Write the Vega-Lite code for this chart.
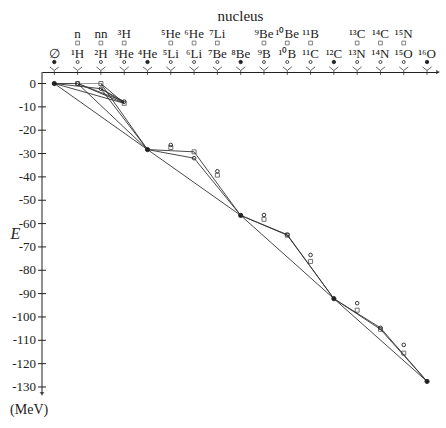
{
  "$schema": "https://vega.github.io/schema/vega-lite/v6.json",
  "width": 396,
  "height": 322,
  "autosize": {"type": "none"},
  "padding": {"left": 42, "top": 72, "right": 8, "bottom": 34},
  "config": {"view": {"stroke": null}, "font": "Liberation Serif"},
  "title": {"text": "(MeV)", "orient": "bottom", "anchor": "start", "frame": "bounds", "font": "Liberation Serif", "fontSize": 14, "fontWeight": "normal", "color": "#222", "offset": 7, "baseline": "top"},
  "datasets": {
    "nuclei": [
      {"A": 0, "E": 0, "kind": "even", "name": "∅"},
      {"A": 1, "E": 0, "kind": "odd", "name": "¹H"},
      {"A": 1, "E": 0, "kind": "other", "name": "n"},
      {"A": 2, "E": -2.22, "kind": "odd", "name": "²H"},
      {"A": 2, "E": 0, "kind": "other", "name": "nn"},
      {"A": 3, "E": -7.72, "kind": "odd", "name": "³He"},
      {"A": 3, "E": -8.48, "kind": "other", "name": "³H"},
      {"A": 4, "E": -28.3, "kind": "even", "name": "⁴He"},
      {"A": 5, "E": -26.33, "kind": "odd", "name": "⁵Li"},
      {"A": 5, "E": -27.41, "kind": "other", "name": "⁵He"},
      {"A": 6, "E": -31.99, "kind": "odd", "name": "⁶Li"},
      {"A": 6, "E": -29.27, "kind": "other", "name": "⁶He"},
      {"A": 7, "E": -37.6, "kind": "odd", "name": "⁷Be"},
      {"A": 7, "E": -39.24, "kind": "other", "name": "⁷Li"},
      {"A": 8, "E": -56.5, "kind": "even", "name": "⁸Be"},
      {"A": 9, "E": -56.31, "kind": "odd", "name": "⁹B"},
      {"A": 9, "E": -58.17, "kind": "other", "name": "⁹Be"},
      {"A": 10, "E": -64.75, "kind": "odd", "name": "¹⁰B"},
      {"A": 10, "E": -64.98, "kind": "other", "name": "¹⁰Be"},
      {"A": 11, "E": -73.44, "kind": "odd", "name": "¹¹C"},
      {"A": 11, "E": -76.2, "kind": "other", "name": "¹¹B"},
      {"A": 12, "E": -92.16, "kind": "even", "name": "¹²C"},
      {"A": 13, "E": -94.1, "kind": "odd", "name": "¹³N"},
      {"A": 13, "E": -97.1, "kind": "other", "name": "¹³C"},
      {"A": 14, "E": -104.66, "kind": "odd", "name": "¹⁴N"},
      {"A": 14, "E": -105.28, "kind": "other", "name": "¹⁴C"},
      {"A": 15, "E": -111.96, "kind": "odd", "name": "¹⁵O"},
      {"A": 15, "E": -115.49, "kind": "other", "name": "¹⁵N"},
      {"A": 16, "E": -127.62, "kind": "even", "name": "¹⁶O"}
    ],
    "paths": [
      {"p": "a", "A": 0, "E": 0}, {"p": "a", "A": 1, "E": 0},
      {"p": "b", "A": 0, "E": 0}, {"p": "b", "A": 2, "E": -2.22}, {"p": "b", "A": 3, "E": -7.72},
      {"p": "c", "A": 0, "E": 0}, {"p": "c", "A": 3, "E": -8.48},
      {"p": "d", "A": 1, "E": 0}, {"p": "d", "A": 3, "E": -7.72},
      {"p": "e", "A": 1, "E": 0}, {"p": "e", "A": 3, "E": -8.48},
      {"p": "f", "A": 2, "E": 0}, {"p": "f", "A": 3, "E": -8.48},
      {"p": "g", "A": 2, "E": -2.22}, {"p": "g", "A": 3, "E": -8.48},
      {"p": "h", "A": 0, "E": 0}, {"p": "h", "A": 4, "E": -28.3},
      {"p": "i", "A": 1, "E": 0}, {"p": "i", "A": 4, "E": -28.3},
      {"p": "j", "A": 2, "E": 0}, {"p": "j", "A": 4, "E": -28.3},
      {"p": "k", "A": 2, "E": -2.22}, {"p": "k", "A": 4, "E": -28.3},
      {"p": "l", "A": 4, "E": -28.3}, {"p": "l", "A": 6, "E": -29.27}, {"p": "l", "A": 8, "E": -56.5},
      {"p": "m", "A": 4, "E": -28.3}, {"p": "m", "A": 6, "E": -31.99}, {"p": "m", "A": 8, "E": -56.5},
      {"p": "n", "A": 4, "E": -28.3}, {"p": "n", "A": 8, "E": -56.5},
      {"p": "o", "A": 8, "E": -56.5}, {"p": "o", "A": 10, "E": -64.75}, {"p": "o", "A": 12, "E": -92.16},
      {"p": "q", "A": 8, "E": -56.5}, {"p": "q", "A": 10, "E": -64.98}, {"p": "q", "A": 12, "E": -92.16},
      {"p": "r", "A": 8, "E": -56.5}, {"p": "r", "A": 12, "E": -92.16},
      {"p": "s", "A": 12, "E": -92.16}, {"p": "s", "A": 14, "E": -104.66}, {"p": "s", "A": 16, "E": -127.62},
      {"p": "t", "A": 12, "E": -92.16}, {"p": "t", "A": 14, "E": -105.28}, {"p": "t", "A": 16, "E": -127.62},
      {"p": "u", "A": 12, "E": -92.16}, {"p": "u", "A": 16, "E": -127.62}
    ],
    "grey": [
      {"A": 1, "E": 0}, {"A": 2, "E": 0}
    ],
    "yticks": [
      {"E": 0, "label": "0"}, {"E": -10, "label": "-10"}, {"E": -20, "label": "-20"}, {"E": -30, "label": "-30"},
      {"E": -40, "label": "-40"}, {"E": -50, "label": "-50"}, {"E": -60, "label": "-60"}, {"E": -70, "label": "-70"},
      {"E": -80, "label": "-80"}, {"E": -90, "label": "-90"}, {"E": -100, "label": "-100"}, {"E": -110, "label": "-110"},
      {"E": -120, "label": "-120"}, {"E": -130, "label": "-130"}
    ]
  },
  "layer": [
    {
      "data": {"name": "paths"},
      "mark": {"type": "line", "color": "#333", "strokeWidth": 0.9},
      "encoding": {
        "x": {"field": "A", "type": "quantitative",
              "scale": {"domain": [-0.528, 16.47], "nice": false, "zero": false},
              "axis": {"orient": "top", "ticks": false, "labels": false, "grid": false, "domainColor": "#222", "domainWidth": 1,
                       "title": "nucleus", "titleFont": "Liberation Serif", "titleFontSize": 15, "titleFontWeight": "normal", "titleColor": "#222", "titlePadding": 49}},
        "y": {"field": "E", "type": "quantitative",
              "scale": {"domain": [-133, 4.93], "nice": false, "zero": false},
              "axis": {"orient": "left", "domain": false, "grid": false, "ticks": false, "labels": false,
                       "title": "E", "titleFont": "Liberation Serif", "titleFontStyle": "italic", "titleFontSize": 16, "titleFontWeight": "normal",
                       "titleColor": "#222", "titleAngle": 0, "titleAlign": "center", "titleBaseline": "middle", "titleX": -27, "titleY": 161}},
        "detail": {"field": "p"}
      }
    },
    {
      "data": {"name": "grey"},
      "mark": {"type": "line", "color": "#999", "strokeWidth": 1},
      "encoding": {"x": {"field": "A", "type": "quantitative"}, "y": {"field": "E", "type": "quantitative"}}
    },
    {
      "data": {"values": [{}]},
      "mark": {"type": "rule", "color": "#222", "strokeWidth": 1},
      "encoding": {"x": {"datum": -0.528, "type": "quantitative"}}
    },
    {
      "data": {"name": "yticks"},
      "mark": {"type": "rule", "color": "#222", "strokeWidth": 1},
      "encoding": {"x": {"datum": -0.7, "type": "quantitative"}, "x2": {"datum": -0.356}, "y": {"field": "E", "type": "quantitative"}}
    },
    {
      "data": {"name": "yticks"},
      "mark": {"type": "text", "font": "Liberation Serif", "fontSize": 13, "color": "#222", "align": "right", "baseline": "middle", "dx": -6},
      "encoding": {"x": {"datum": -0.528, "type": "quantitative"}, "y": {"field": "E", "type": "quantitative"}, "text": {"field": "label"}}
    },
    {
      "data": {"values": [{}]},
      "mark": {"type": "point", "shape": "triangle-down", "filled": true, "color": "#222", "size": 22},
      "encoding": {"x": {"datum": -0.528, "type": "quantitative"}, "y": {"datum": -133, "type": "quantitative"}}
    },
    {
      "data": {"values": [{}]},
      "mark": {"type": "point", "shape": "triangle-right", "filled": true, "color": "#222", "size": 22},
      "encoding": {"x": {"datum": 16.47, "type": "quantitative"}, "y": {"datum": 4.93, "type": "quantitative"}}
    },
    {
      "data": {"name": "nuclei"},
      "transform": [{"filter": "datum.kind == 'other'"}],
      "mark": {"type": "point", "shape": "square", "filled": false, "color": "#222", "strokeWidth": 0.9, "size": 16},
      "encoding": {"x": {"field": "A", "type": "quantitative"}, "y": {"field": "E", "type": "quantitative"}}
    },
    {
      "data": {"name": "nuclei"},
      "transform": [{"filter": "datum.kind != 'other'"}],
      "mark": {"type": "point", "shape": "circle", "stroke": "#222", "strokeWidth": 0.9, "opacity": 1},
      "encoding": {"x": {"field": "A", "type": "quantitative"}, "y": {"field": "E", "type": "quantitative"},
                   "fill": {"condition": {"test": "datum.kind == 'even'", "value": "#222"}, "value": "transparent"},
                   "size": {"condition": {"test": "datum.kind == 'even'", "value": 18}, "value": 13}}
    },
    {
      "data": {"name": "nuclei"},
      "transform": [{"filter": "datum.kind != 'other'"}],
      "mark": {"type": "point", "shape": "M-1,-0.8L0,0L1,-0.8M0,0L0,1", "filled": false, "stroke": "#222", "strokeWidth": 1, "size": 81},
      "encoding": {"x": {"field": "A", "type": "quantitative"}, "y": {"datum": 5.57, "type": "quantitative"}}
    },
    {
      "data": {"name": "nuclei"},
      "transform": [{"filter": "datum.kind != 'other'"}],
      "mark": {"type": "point", "shape": "circle", "stroke": "#222", "strokeWidth": 0.8, "opacity": 1},
      "encoding": {"x": {"field": "A", "type": "quantitative"}, "y": {"datum": 9.21, "type": "quantitative"},
                   "fill": {"condition": {"test": "datum.kind == 'even'", "value": "#222"}, "value": "white"},
                   "size": {"condition": {"test": "datum.kind == 'even'", "value": 12}, "value": 9}}
    },
    {
      "data": {"name": "nuclei"},
      "transform": [{"filter": "datum.kind == 'other'"}],
      "mark": {"type": "point", "shape": "square", "filled": false, "color": "#222", "strokeWidth": 0.8, "size": 14},
      "encoding": {"x": {"field": "A", "type": "quantitative"}, "y": {"datum": 17.35, "type": "quantitative"}}
    },
    {
      "data": {"name": "nuclei"},
      "transform": [{"filter": "datum.kind != 'other'"}],
      "mark": {"type": "text", "font": "Liberation Serif", "fontSize": 13, "color": "#222", "align": "center", "baseline": "alphabetic"},
      "encoding": {"x": {"field": "A", "type": "quantitative"}, "y": {"datum": 10.92, "type": "quantitative"}, "text": {"field": "name"}}
    },
    {
      "data": {"name": "nuclei"},
      "transform": [{"filter": "datum.kind == 'other'"}],
      "mark": {"type": "text", "font": "Liberation Serif", "fontSize": 13, "color": "#222", "align": "center", "baseline": "alphabetic"},
      "encoding": {"x": {"field": "A", "type": "quantitative"}, "y": {"datum": 19.49, "type": "quantitative"}, "text": {"field": "name"}}
    }
  ]
}
